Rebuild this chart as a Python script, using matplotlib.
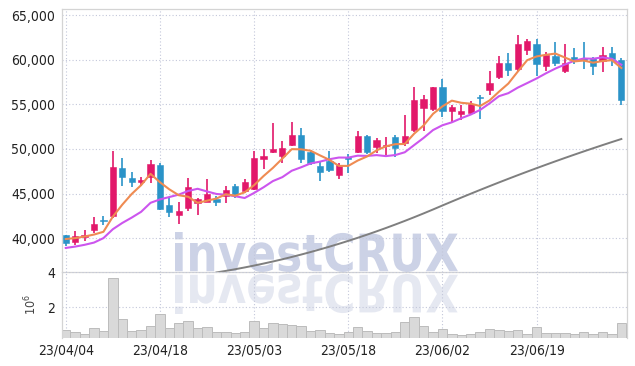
import numpy as np
import matplotlib
matplotlib.use("Agg")
import matplotlib.pyplot as plt
from matplotlib.patches import PathPatch
from matplotlib.textpath import TextPath
from matplotlib.font_manager import FontProperties
from matplotlib.transforms import Affine2D, IdentityTransform
from matplotlib.ticker import FuncFormatter

# --- Dati ---
dates = [
    "23/04/04", "23/04/05", "23/04/06", "23/04/07", "23/04/10", "23/04/11", "23/04/12", "23/04/13",
    "23/04/14", "23/04/17", "23/04/18", "23/04/19", "23/04/20", "23/04/21", "23/04/24", "23/04/25",
    "23/04/26", "23/04/27", "23/04/28", "23/05/02", "23/05/03", "23/05/04", "23/05/08", "23/05/09",
    "23/05/10", "23/05/11", "23/05/12", "23/05/15", "23/05/16", "23/05/17", "23/05/18", "23/05/19",
    "23/05/22", "23/05/23", "23/05/24", "23/05/25", "23/05/26", "23/05/30", "23/05/31", "23/06/01",
    "23/06/02", "23/06/05", "23/06/07", "23/06/08", "23/06/09", "23/06/12", "23/06/13", "23/06/14",
    "23/06/15", "23/06/16", "23/06/19", "23/06/20", "23/06/21", "23/06/22", "23/06/23", "23/06/26",
    "23/06/27", "23/06/28", "23/06/29", "23/06/30",
]
opens = [40300, 39600, 40100, 40900, 42050, 42500, 47900, 46700, 46350, 46800,
         48200, 43700, 42600, 43400, 43900, 44000, 44400, 44700, 45800, 45300,
         45500, 48900, 49700, 49200, 50500, 51600, 49700, 48100, 48700, 47100,
         49100, 49700, 51400, 50200, 50300, 51300, 50700, 52100, 54600, 54500,
         57000, 54300, 53900, 54000, 55800, 56600, 58100, 59600, 59000, 61100,
         61800, 59300, 60400, 58700, 60300, 60200, 60200, 59900, 60800, 60000]
highs = [40400, 40800, 40900, 42400, 42500, 49800, 49000, 47400, 46900, 48800,
         48400, 44600, 44000, 46700, 44500, 46600, 44700, 45900, 46100, 46600,
         49800, 50000, 52900, 50900, 53000, 52400, 49900, 48700, 49800, 48400,
         49400, 52000, 51600, 51200, 51300, 51600, 53800, 56900, 56000, 57000,
         57800, 54900, 54900, 55400, 56000, 58800, 60400, 60800, 62800, 62300,
         62300, 60900, 62000, 61800, 61300, 62000, 60300, 61400, 61400, 60200]
lows = [39100, 39200, 39700, 40600, 41500, 42300, 45900, 45700, 45900, 46200,
        43100, 42400, 41600, 43000, 42600, 44000, 43600, 43900, 44500, 45100,
        45400, 47700, 49600, 48400, 50300, 48400, 48200, 46400, 47400, 46600,
        47300, 49600, 49400, 49600, 49300, 49100, 50300, 51900, 52000, 54300,
        53600, 53000, 53300, 53900, 53400, 56100, 57800, 58200, 58700, 60500,
        58200, 58800, 59300, 58500, 59500, 59000, 58300, 58600, 59300, 54900]
closes = [39500, 40200, 40300, 41600, 41950, 48000, 46900, 46300, 46550, 48300,
          43300, 42900, 43000, 45700, 44400, 45000, 44100, 45400, 44900, 46300,
          49000, 49200, 50000, 50100, 51600, 48900, 48400, 47400, 47600, 48200,
          48900, 51400, 49700, 51000, 50500, 50100, 51500, 55500, 55600, 57000,
          54300, 54700, 54300, 55100, 55700, 57400, 59600, 58900, 61800, 62100,
          59500, 60500, 59600, 59600, 59900, 60000, 59300, 60500, 60100, 55500]
# volumi in milioni
volumes = [0.70, 0.59, 0.47, 0.80, 0.65, 3.66, 1.31, 0.65, 0.70, 0.93,
           1.62, 0.80, 1.09, 1.22, 0.80, 0.86, 0.59, 0.59, 0.53, 0.59,
           1.22, 0.80, 1.09, 1.05, 0.99, 0.91, 0.65, 0.70, 0.55, 0.47,
           0.59, 0.86, 0.65, 0.53, 0.55, 0.59, 1.14, 1.43, 0.93, 0.59,
           0.74, 0.47, 0.40, 0.47, 0.59, 0.74, 0.69, 0.65, 0.69, 0.47,
           0.86, 0.53, 0.53, 0.53, 0.47, 0.59, 0.47, 0.59, 0.47, 1.09]
# medie mobili
ma5 = [39900, 40000, 40180, 40400, 40710, 42410, 43750, 44950, 45940, 47210,
       46270, 45470, 44810, 44640, 43960, 44200, 44440, 44920, 44760, 45140,
       45940, 46960, 47880, 48920, 49980, 49960, 49800, 49280, 48780, 48100,
       48100, 48700, 49160, 49840, 50300, 50540, 50560, 51720, 52640, 53940,
       54780, 55420, 55180, 55080, 54820, 55440, 56420, 57340, 58680, 59960,
       60380, 60560, 60700, 60260, 59820, 59920, 59680, 59860, 59960, 59080]
ma10 = [38900, 39050, 39250, 39500, 40000, 41000, 41700, 42300, 42950, 43960,
        44340, 44610, 44880, 45290, 45535, 45235, 44955, 44865, 44700, 44500,
        45070, 45700, 46400, 46840, 47560, 47950, 48380, 48580, 48850, 49040,
        49030, 49250, 49220, 49310, 49200, 49320, 49630, 50440, 51240, 52120,
        52660, 52990, 53450, 53860, 54380, 55110, 55920, 56260, 56880, 57390,
        57910, 58490, 59020, 59470, 59890, 60150, 60120, 60280, 60110, 59450]
ma60 = [None] * 16 + [
    36150, 36325, 36512, 36711, 36922, 37145, 37380, 37627, 37886, 38157,
    38440, 38735, 39042, 39361, 39692, 40035, 40390, 40757, 41136, 41527,
    41930, 42345, 42772, 43211, 43661, 44106, 44545, 44978, 45406, 45828,
    46244, 46654, 47058, 47456, 47848, 48235, 48616, 48991, 49360, 49723,
    50080, 50432, 50778, 51118]
tick_idx = [0, 10, 20, 30, 40, 50]
price_ticks = [40000, 45000, 50000, 55000, 60000, 65000]
vol_ticks = [2, 4]

# --- Stile ---
UP = "#e2186a"
DOWN = "#2a93c8"
GRID = "#c3c7da"
FRAME = "#d4d4d4"
plt.rcParams["font.family"] = ["DejaVu Sans"]
plt.rcParams["font.stretch"] = "condensed"

fig = plt.figure(figsize=(6.35, 3.66), dpi=100)
ax = fig.add_axes([62 / 635, 1 - 272 / 366, 565 / 635, 263 / 366])
axv = fig.add_axes([62 / 635, 1 - 338 / 366, 565 / 635, 66 / 366], sharex=ax)

x = np.arange(len(dates))
o = np.array(opens)
c = np.array(closes)
colors = [UP if cc >= oo else DOWN for oo, cc in zip(o, c)]

# candele
ax.vlines(x, lows, highs, colors=colors, linewidth=1.2, zorder=3)
body_h = np.maximum(np.abs(c - o), 130)
ax.bar(x, body_h, bottom=np.minimum(o, c), width=0.66, color=colors,
       edgecolor=colors, linewidth=0.4, zorder=4)

# medie mobili
ma60_arr = np.array([np.nan if v is None else v for v in ma60], dtype=float)
ax.plot(x, ma60_arr, color="#7f7f7f", linewidth=1.4, zorder=2)
ax.plot(x, ma10, color="#cc55ee", linewidth=1.5, zorder=5)
ax.plot(x, ma5, color="#ef8b52", linewidth=1.5, zorder=6)

ax.set_xlim(-0.4, len(dates) - 0.4)
ax.set_ylim(36200, 65700)
ax.set_yticks(price_ticks)
ax.yaxis.set_major_formatter(FuncFormatter(lambda v, p: f"{int(v):,}"))

# volumi
axv.bar(x, volumes, width=1.0, color="#d9d9d9", edgecolor="#bcbcbc", linewidth=0.7, zorder=2)
axv.set_ylim(0.25, 4.02)
axv.set_yticks(vol_ticks)
axv.set_ylabel(r"$10^6$", fontsize=9, color="#444444", labelpad=6)
axv.set_xticks(tick_idx)
axv.set_xticklabels([dates[i] for i in tick_idx])

for a in (ax, axv):
    a.set_facecolor("none")
    a.grid(True, linestyle=(0, (1, 2)), color=GRID, linewidth=0.8, zorder=0)
    a.set_axisbelow(True)
    a.tick_params(length=0, labelsize=10, colors="#222222", pad=5)
    for s in a.spines.values():
        s.set_color(FRAME)
        s.set_linewidth(0.9)
ax.tick_params(labelbottom=False)
axv.spines["top"].set_visible(False)
axv.spines["bottom"].set_visible(False)
axv.tick_params(axis="x", pad=4)

# watermark "investCRUX" con riflesso
tp = TextPath((0, 0), "investCRUX", size=1,
              prop=FontProperties(family="DejaVu Sans", weight="bold"))
ext = tp.get_extents()
sx = (458 - 175) / ext.width
sy = 40 / ext.height
main_tr = Affine2D().translate(-ext.x0, -ext.y0).scale(sx, sy).translate(175, 366 - 272)
refl_tr = Affine2D().translate(-ext.x0, -ext.y0).scale(sx, -sy).translate(175, 366 - 274)
fig.add_artist(PathPatch(tp, transform=main_tr + IdentityTransform(),
                         facecolor="#c3cae2", edgecolor="none", alpha=0.85, zorder=-1))
fig.add_artist(PathPatch(tp, transform=refl_tr + IdentityTransform(),
                         facecolor="#e1e4ef", edgecolor="none", alpha=0.85, zorder=-1))

fig.savefig("out.png", dpi=100, facecolor="white")
